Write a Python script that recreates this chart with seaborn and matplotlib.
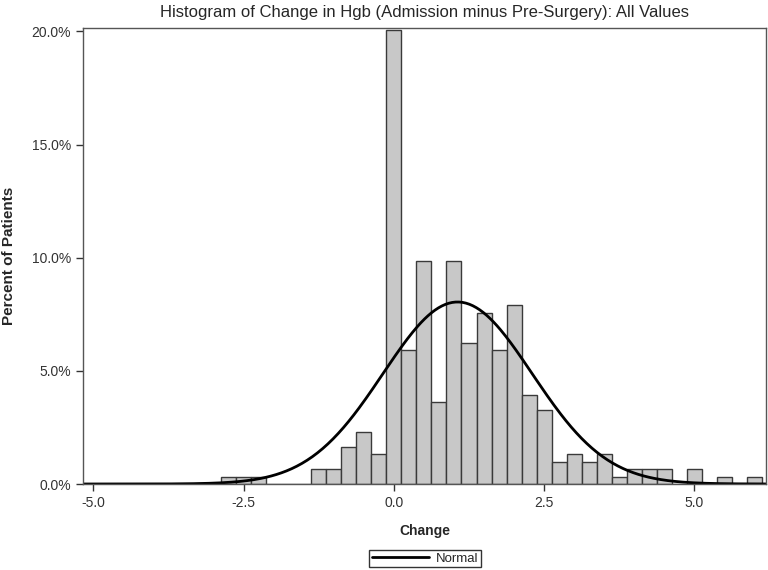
import numpy as np
import pandas as pd
import matplotlib
matplotlib.use("Agg")
import matplotlib.pyplot as plt
import seaborn as sns
from matplotlib.lines import Line2D
from matplotlib.ticker import FuncFormatter

# Histogram bins (midpoints, width 0.25) and percent of patients
bin_mid = [-2.75, -2.5, -2.25, -1.25, -1.0, -0.75, -0.5, -0.25, 0.0, 0.25,
           0.5, 0.75, 1.0, 1.25, 1.5, 1.75, 2.0, 2.25, 2.5, 2.75,
           3.0, 3.25, 3.5, 3.75, 4.0, 4.25, 4.5, 5.0, 5.5, 6.0]
pct = [0.33, 0.33, 0.33, 0.66, 0.66, 1.64, 2.30, 1.32, 20.07, 5.92,
       9.87, 3.62, 9.87, 6.25, 7.57, 5.92, 7.89, 3.95, 3.29, 0.99,
       1.32, 0.99, 1.32, 0.33, 0.66, 0.66, 0.66, 0.66, 0.33, 0.33]
bin_width = 0.25

# fitted normal curve parameters
normal_mean = 1.06
normal_sd = 1.24

x_ticks = [-5.0, -2.5, 0.0, 2.5, 5.0]
y_ticks = [0, 5, 10, 15, 20]

sns.set_style("white")
plt.rcParams['font.family'] = ['Liberation Sans', 'DejaVu Sans']

df = pd.DataFrame({"Change": bin_mid, "Percent": pct})

fig = plt.figure(figsize=(7.68, 5.70), dpi=100)
ax = fig.add_axes([83 / 768, 1 - 484 / 570, (766 - 83) / 768, (484 - 28) / 570])

sns.histplot(data=df, x="Change", weights="Percent", binwidth=bin_width,
             binrange=(min(bin_mid) - bin_width / 2, max(bin_mid) + bin_width / 2),
             color="#c8c8c8", edgecolor="#3a3a3a", linewidth=1.0, alpha=1.0, ax=ax)

# normal density scaled to percent per bin
xs = np.linspace(-5.2, 6.25, 400)
ys = bin_width * 100 * np.exp(-0.5 * ((xs - normal_mean) / normal_sd) ** 2) / (normal_sd * np.sqrt(2 * np.pi))
sns.lineplot(x=xs, y=ys, color="black", linewidth=2.0, ax=ax)

ax.set_xlim(-5.17, 6.19)
ax.set_ylim(0, 20.15)
ax.set_xticks(x_ticks)
ax.set_yticks(y_ticks)
ax.xaxis.set_major_formatter(FuncFormatter(lambda v, p: f"{v:.1f}"))
ax.yaxis.set_major_formatter(FuncFormatter(lambda v, p: f"{v:.1f}%"))
ax.tick_params(axis="both", which="major", direction="out", length=5, width=1,
               color="#333333", labelsize=10, labelcolor="#333333", bottom=True, left=True)

for s in ax.spines.values():
    s.set_visible(True)
    s.set_color("#555555")
    s.set_linewidth(1.0)

ax.set_xlabel("Change", fontsize=10, fontweight="bold", labelpad=10)
ax.set_ylabel("Percent of Patients", fontsize=11, fontweight="bold")
ax.yaxis.set_label_coords(-0.098, 0.5)

fig.text(425 / 768, 1 - 13 / 570, "Histogram of Change in Hgb (Admission minus Pre-Surgery): All Values",
         ha="center", va="center", fontsize=12)

handle = Line2D([0], [0], color="black", linewidth=2.0)
leg = fig.legend([handle], ["Normal"], loc="center", bbox_to_anchor=(425 / 768, 1 - 558.7 / 570),
                 fontsize=9.5, frameon=True, fancybox=False, handlelength=4.3,
                 borderpad=0.2, handletextpad=0.5, borderaxespad=0)
leg.get_frame().set_edgecolor("black")
leg.get_frame().set_linewidth(1.0)

fig.savefig("out.png", dpi=100)
